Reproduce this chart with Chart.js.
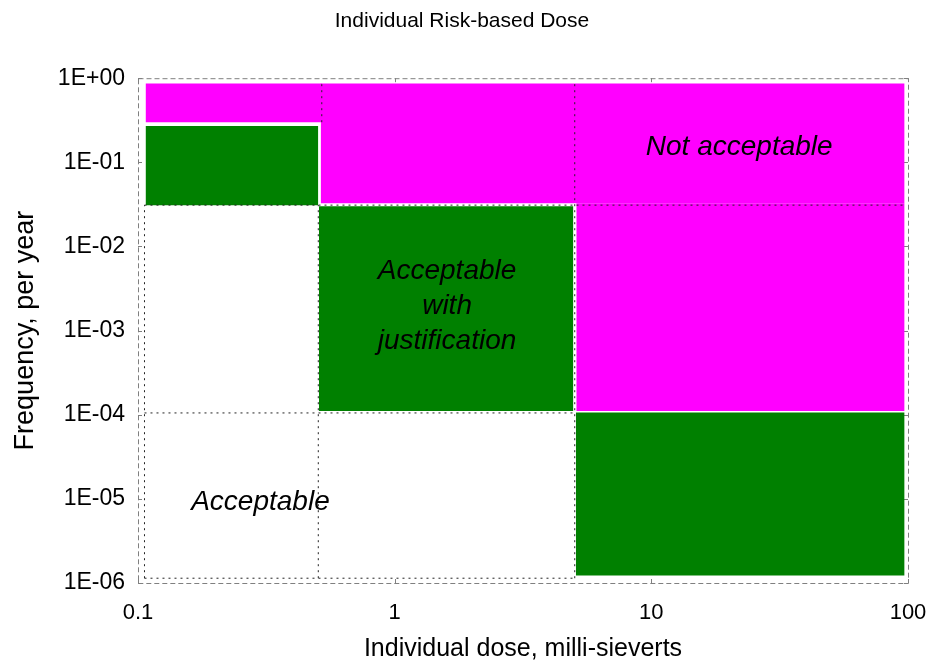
<!DOCTYPE html>
<html>
<head>
<meta charset="utf-8">
<script src="https://cdn.jsdelivr.net/npm/chart.js@4/dist/chart.umd.min.js"></script>
<style>
  html, body { margin: 0; padding: 0; background: #fff; }
</style>
</head>
<body>
<canvas id="c" width="930" height="666"></canvas>
<script>
// Axis ticks
const doseTicks = [0.1, 1, 10, 100];
const doseTickLabels = ['0.1', '1', '10', '100'];
const freqTicks = [1, 1e-1, 1e-2, 1e-3, 1e-4, 1e-5, 1e-6];
const freqTickLabels = ['1E+00', '1E-01', '1E-02', '1E-03', '1E-04', '1E-05', '1E-06'];

// Risk zones: dose range (mSv) x frequency range (per year)
const zoneKind     = ['not', 'not', 'not', 'justified', 'justified', 'justified'];
const zoneDoseFrom = [0.107, 0.515, 5.1, 0.107, 0.507, 5.08];
const zoneDoseTo   = [0.52, 97, 97, 0.504, 4.97, 97];
const zoneFreqFrom = [0.3, 0.0327, 1.11e-4, 0.031, 1.11e-4, 1.23e-6];
const zoneFreqTo   = [0.865, 0.865, 0.0327, 0.271, 0.03, 1.06e-4];

// Dotted guide segments between the zones
const guideDoseFrom = [0.106, 0.504, 0.52, 5.03, 0.106, 0.106, 0.106];
const guideDoseTo   = [0.106, 0.504, 0.52, 5.03, 97, 5.03, 5.03];
const guideFreqFrom = [1.14e-6, 1.14e-6, 0.3, 1.14e-6, 0.031, 1.05e-4, 1.14e-6];
const guideFreqTo   = [0.031, 0.031, 0.865, 0.865, 0.031, 1.05e-4, 1.14e-6];

// Zone captions, anchored at (dose, frequency)
const noteText = ['Not acceptable', 'Acceptable\nwith\njustification', 'Acceptable'];
const noteDose = [22, 1.6, 0.3];
const noteFreq = [0.15, 1.96e-3, 9.1e-6];

const FONT = '"Liberation Sans", Arial, sans-serif';
const KIND_COLOR = { not: '#ff00ff', justified: '#008000' };

const datasets = [];

guideDoseFrom.forEach((d0, i) => {
  datasets.push({
    data: [{ x: d0, y: guideFreqFrom[i] }, { x: guideDoseTo[i], y: guideFreqTo[i] }],
    borderColor: '#222222',
    borderWidth: 1,
    borderDash: [2, 4],
    pointRadius: 0,
    fill: false,
    order: 0
  });
});

zoneKind.forEach((k, i) => {
  datasets.push({
    data: [{ x: zoneDoseFrom[i], y: zoneFreqTo[i] }, { x: zoneDoseTo[i], y: zoneFreqTo[i] }],
    backgroundColor: KIND_COLOR[k],
    borderColor: 'rgba(0,0,0,0)',
    borderWidth: 0,
    pointRadius: 0,
    fill: { value: zoneFreqFrom[i] },
    order: k === 'not' ? 2 : 1
  });
});

// Plot frame with small inward tick marks
const framePlugin = {
  id: 'frame',
  beforeDatasetsDraw(chart) {
    const { ctx, chartArea: a, scales } = chart;
    ctx.save();
    ctx.strokeStyle = '#808080';
    ctx.lineWidth = 1;
    ctx.setLineDash([5, 3]);
    ctx.strokeRect(a.left + 0.5, a.top + 0.5, a.right - a.left, a.bottom - a.top);
    ctx.setLineDash([]);
    ctx.beginPath();
    scales.y.ticks.forEach(t => {
      const y = Math.round(scales.y.getPixelForValue(t.value)) + 0.5;
      ctx.moveTo(a.left, y); ctx.lineTo(a.left + 4, y);
      ctx.moveTo(a.right, y); ctx.lineTo(a.right - 4, y);
    });
    scales.x.ticks.forEach(t => {
      const x = Math.round(scales.x.getPixelForValue(t.value)) + 0.5;
      ctx.moveTo(x, a.bottom); ctx.lineTo(x, a.bottom - 4);
      ctx.moveTo(x, a.top); ctx.lineTo(x, a.top + 4);
    });
    ctx.stroke();
    ctx.restore();
  }
};

// Zone captions
const notesPlugin = {
  id: 'notes',
  afterDatasetsDraw(chart) {
    const { ctx, scales } = chart;
    ctx.save();
    ctx.fillStyle = '#000';
    ctx.font = 'italic 28px ' + FONT;
    ctx.textAlign = 'center';
    ctx.textBaseline = 'middle';
    const lh = 35;
    noteText.forEach((txt, i) => {
      const lines = txt.split('\n');
      const cx = scales.x.getPixelForValue(noteDose[i]);
      const cy = scales.y.getPixelForValue(noteFreq[i]);
      lines.forEach((ln, j) => {
        ctx.fillText(ln, cx, cy + (j - (lines.length - 1) / 2) * lh);
      });
    });
    ctx.restore();
  }
};

new Chart(document.getElementById('c'), {
  type: 'line',
  data: { datasets },
  options: {
    responsive: false,
    animation: false,
    events: [],
    layout: { padding: { left: 16, right: 22, top: 0, bottom: 0 } },
    plugins: {
      legend: { display: false },
      tooltip: { enabled: false },
      title: {
        display: true,
        text: 'Individual Risk-based Dose',
        color: '#000',
        font: { family: FONT, size: 21, weight: 'normal' },
        padding: { top: 9, bottom: 44 }
      }
    },
    scales: {
      x: {
        type: 'logarithmic',
        min: 0.1,
        max: 100,
        grid: { display: false, drawTicks: false },
        border: { display: false },
        afterBuildTicks: s => { s.ticks = doseTicks.map(v => ({ value: v })); },
        afterFit: s => { s.height = 83; s.paddingLeft = 0; s.paddingRight = 0; },
        ticks: {
          padding: 17,
          color: '#000',
          autoSkip: false,
          maxRotation: 0,
          font: { family: FONT, size: 22 },
          callback: v => doseTickLabels[doseTicks.indexOf(v)] ?? ''
        },
        title: {
          display: true,
          text: 'Individual dose, milli-sieverts',
          color: '#000',
          font: { family: FONT, size: 25 },
          padding: { top: 0, bottom: 2 }
        }
      },
      y: {
        type: 'logarithmic',
        min: 1e-6,
        max: 1,
        grid: { display: false, drawTicks: false },
        border: { display: false },
        afterBuildTicks: s => { s.ticks = freqTicks.map(v => ({ value: v })); },
        afterFit: s => { s.width = 122; },
        ticks: {
          padding: 13,
          color: '#000',
          autoSkip: false,
          font: { family: FONT, size: 23 },
          callback: v => freqTickLabels[freqTicks.indexOf(v)] ?? ''
        },
        title: {
          display: true,
          text: 'Frequency, per year',
          color: '#000',
          font: { family: FONT, size: 27 },
          padding: { top: -7, bottom: 0 }
        }
      }
    }
  },
  plugins: [framePlugin, notesPlugin]
});
</script>
</body>
</html>
